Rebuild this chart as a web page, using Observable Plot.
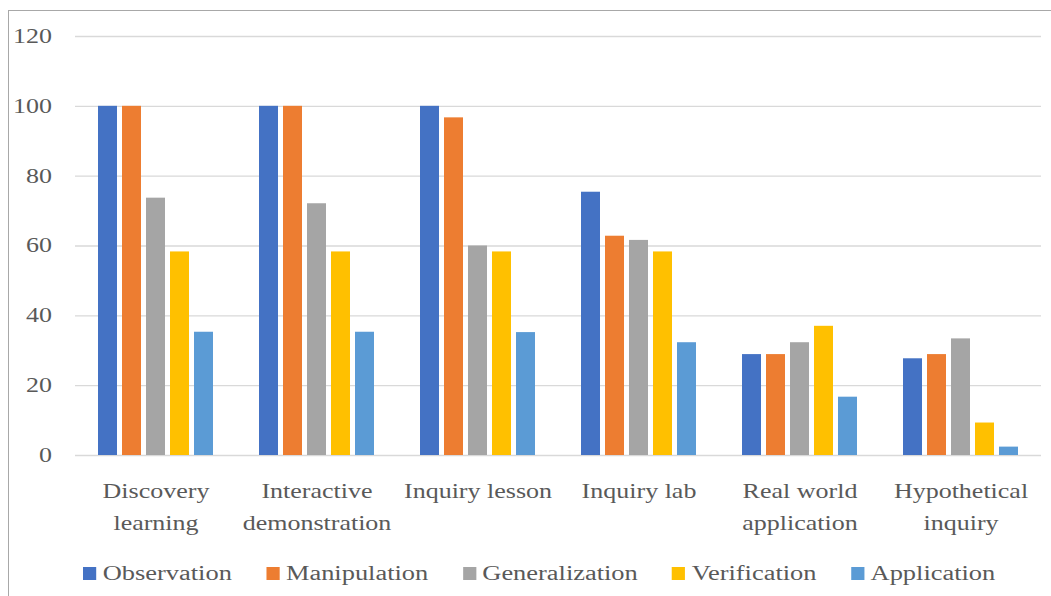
<!DOCTYPE html>
<html>
<head>
<meta charset="utf-8">
<script src="https://cdn.jsdelivr.net/npm/d3@7"></script>
<script src="https://cdn.jsdelivr.net/npm/@observablehq/plot@0.6"></script>
<style>
  html, body { margin: 0; padding: 0; background: #fff; }
  #wrap { position: relative; width: 1051px; height: 596px; overflow: hidden; background: #fff; }
  #border { position: absolute; left: 8px; top: 10px; right: -5px; bottom: -5px; border-top: 1.5px solid #a8a8a8; border-left: 1.5px solid #a8a8a8; pointer-events: none; }
  #chart { position: absolute; left: 0; top: 0; }
  #legend { position: absolute; left: 83px; top: 562px; display: flex; align-items: center; transform: scaleX(1.32); transform-origin: 0 50%; font-family: "Liberation Serif", serif; font-size: 20px; color: #595959; white-space: nowrap; }
  .item { display: flex; align-items: center; margin-right: 26px; }
  .sw { width: 10px; height: 13px; margin-right: 5px; }
</style>
</head>
<body>
<div id="wrap">
  <div id="chart"></div>
  <div id="border"></div>
  <div id="legend"></div>
</div>
<script>
const categories = ["Discovery\nlearning", "Interactive\ndemonstration", "Inquiry lesson", "Inquiry lab", "Real world\napplication", "Hypothetical\ninquiry"];
const series = ["Observation", "Manipulation", "Generalization", "Verification", "Application"];
const colors = ["#4472C4", "#ED7D31", "#A5A5A5", "#FFC000", "#5B9BD5"];
const observation = [100, 100, 100, 75.4, 28.9, 27.7];
const manipulation = [100, 100, 96.7, 62.8, 28.9, 28.9];
const generalization = [73.7, 72.1, 60, 61.6, 32.3, 33.4];
const verification = [58.3, 58.3, 58.3, 58.3, 37, 9.3];
const application = [35.3, 35.3, 35.2, 32.3, 16.7, 2.4];
const yTicks = [0, 20, 40, 60, 80, 100, 120];

const valuesBySeries = [observation, manipulation, generalization, verification, application];
const data = [];
categories.forEach((c, i) => {
  series.forEach((s, j) => data.push({category: c, series: s, value: valuesBySeries[j][i]}));
});

const chart = Plot.plot({
  width: 1051,
  height: 540,
  marginLeft: 75,
  marginRight: 10,
  marginTop: 36,
  marginBottom: 85,
  style: {fontFamily: "'Liberation Serif', serif", fontSize: "20px", color: "#595959", background: "transparent"},
  fx: {domain: categories, paddingInner: 0, paddingOuter: 0, label: null, axis: null},
  x: {domain: series, paddingInner: 0.2, paddingOuter: 0.94, axis: null},
  y: {domain: [0, 120], axis: null},
  color: {domain: series, range: colors},
  marks: [
    Plot.ruleY(yTicks, {stroke: "#d9d9d9", strokeWidth: 1.3}),
    Plot.axisY({ticks: yTicks, tickSize: 0, tickPadding: 23.5, label: null, fontSize: 20}),
    Plot.barY(data, {fx: "category", x: "series", y: "value", fill: "series"}),
    Plot.axisFx({anchor: "bottom", tickSize: 0, tickPadding: 20, label: null, lineHeight: 1.6, fontSize: 20})
  ]
});

chart.querySelectorAll("text").forEach(t => {
  const tr = t.getAttribute("transform");
  if (tr) t.setAttribute("transform", tr + " scale(1.3,1)");
});
document.getElementById("chart").appendChild(chart);

const legend = document.getElementById("legend");
series.forEach((s, j) => {
  const item = document.createElement("div");
  item.className = "item";
  const sw = document.createElement("span");
  sw.className = "sw";
  sw.style.background = colors[j];
  const label = document.createElement("span");
  label.textContent = s;
  item.appendChild(sw);
  item.appendChild(label);
  legend.appendChild(item);
});
</script>
</body>
</html>
